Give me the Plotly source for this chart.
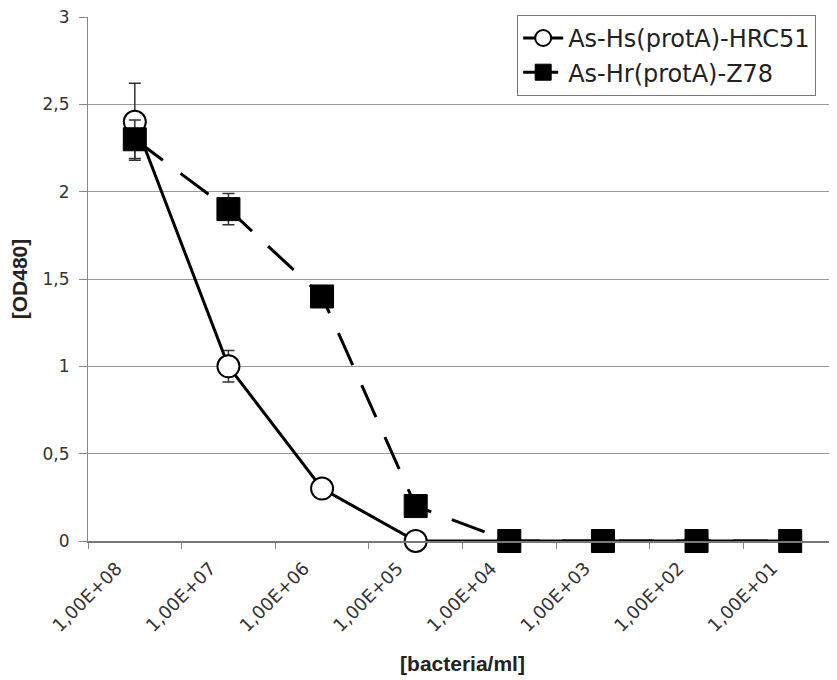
import plotly.graph_objects as go

categories = ["1,00E+08", "1,00E+07", "1,00E+06", "1,00E+05",
              "1,00E+04", "1,00E+03", "1,00E+02", "1,00E+01"]
hrc51_name = "As-Hs(protA)-HRC51"
hrc51_values = [2.4, 1.0, 0.3, 0.0, 0.0, 0.0, 0.0, 0.0]
hrc51_err = [0.22, 0.09, 0.0, 0.0, 0.0, 0.0, 0.0, 0.0]
z78_name = "As-Hr(protA)-Z78"
z78_values = [2.3, 1.9, 1.4, 0.2, 0.0, 0.0, 0.0, 0.0]
z78_err = [0.11, 0.09, 0.0, 0.0, 0.0, 0.0, 0.0, 0.0]
y_tickvals = [0, 0.5, 1, 1.5, 2, 2.5, 3]
y_ticktext = ["0", "0,5", "1", "1,5", "2", "2,5", "3"]

font_family = "DejaVu Sans, Liberation Sans, sans-serif"
title_family = "Liberation Sans, Arial, sans-serif"

fig = go.Figure()
fig.add_trace(go.Scatter(
    x=categories, y=hrc51_values, name=hrc51_name, mode="lines+markers",
    line=dict(color="black", width=3),
    marker=dict(symbol="circle", size=22, color="white",
                line=dict(color="black", width=2)),
    error_y=dict(type="data", array=hrc51_err, visible=True,
                 color="#333", thickness=1.5, width=6),
    cliponaxis=False,
))
fig.add_trace(go.Scatter(
    x=categories, y=z78_values, name=z78_name, mode="lines+markers",
    line=dict(color="black", width=3, dash="35px,22px"),
    marker=dict(symbol="square", size=23, color="black",
                line=dict(color="black", width=1)),
    error_y=dict(type="data", array=z78_err, visible=True,
                 color="#333", thickness=1.5, width=6),
    cliponaxis=False,
))

fig.update_layout(
    width=829, height=672,
    margin=dict(l=80, r=0, t=9, b=139),
    paper_bgcolor="white", plot_bgcolor="white",
    font=dict(family=font_family, size=17, color="#333"),
    showlegend=True,
    legend=dict(x=0.573, y=1.004, xanchor="left", yanchor="top",
                bgcolor="white", bordercolor="#777", borderwidth=1,
                itemwidth=40,
                font=dict(family=font_family, size=24, color="#222"),
                tracegroupgap=0),
    xaxis=dict(
        type="category", range=[-0.5, 7.5], automargin=False,
        tickson="boundaries", ticks="outside", ticklen=6, tickcolor="#888",
        tickangle=-45, showgrid=False, showline=True, linecolor="#777",
        linewidth=1.5, ticklabelshift=-18, ticklabelstandoff=8,
        ticklabeloverflow="allow",
        tickfont=dict(size=18, color="#333"),
        title=dict(text="<b>[bacteria/ml]</b>", standoff=22,
                   font=dict(family=title_family, size=21, color="#222")),
    ),
    yaxis=dict(
        range=[0, 3], tickvals=y_tickvals, ticktext=y_ticktext, automargin=False,
        ticks="outside", ticklen=8, tickcolor="#888",
        showgrid=True, gridcolor="#999", gridwidth=1,
        showline=True, linecolor="#888", zeroline=False,
        ticklabelstandoff=6, ticklabeloverflow="allow",
        tickfont=dict(size=17, color="#333"),
        title=dict(text="<b>[OD480]</b>", standoff=12,
                   font=dict(family=title_family, size=21, color="#222")),
    ),
)

fig.write_html("out.html")
